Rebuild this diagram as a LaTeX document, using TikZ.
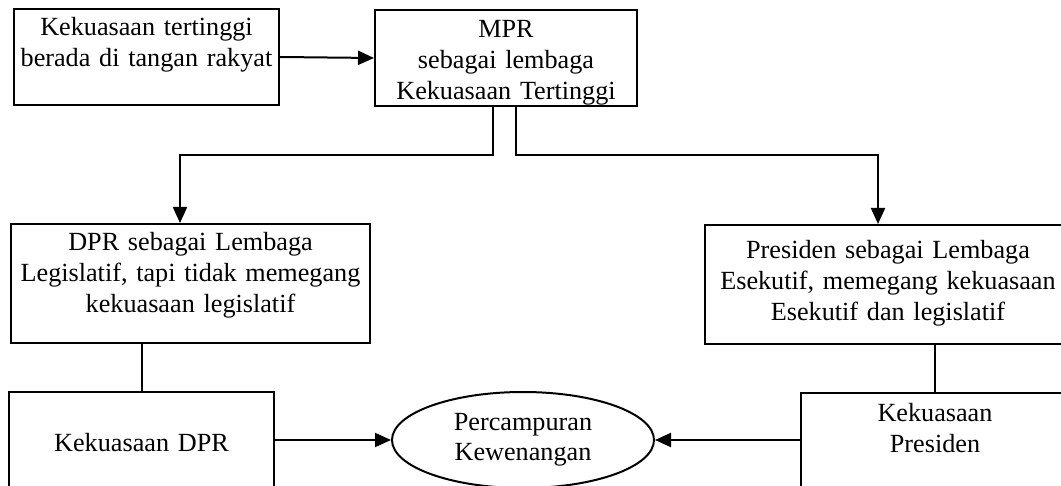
\documentclass[tikz,border=0pt]{standalone}
\usepackage{fontspec}
\setmainfont{Liberation Serif}
\usetikzlibrary{arrows.meta,shapes.geometric}
\tikzset{
  box/.style={draw, line width=2pt, anchor=north west, inner sep=0pt,
              align=center, font=\fontsize{26.2}{31}\selectfont},
  oval/.style={draw, ellipse, line width=2pt, inner sep=0pt,
               minimum width=262pt, minimum height=96pt, align=center,
               font=\fontsize{26.2}{30}\selectfont},
  link/.style={line width=2pt},
  arr/.style={line width=2pt, -{Triangle[length=16pt,width=14pt]}}
}
\begin{document}
\begin{tikzpicture}[x=1pt,y=-1pt]
  \useasboundingbox (0,0) rectangle (1061,486);
  \fill[white] (0,0) rectangle (1061,486);
  \clip (0,0) rectangle (1061,486);

  % top row
  \node[box, text width=265pt, text height=27pt, text depth=69pt] (rakyat) at (13,8)
    {Kekuasaan tertinggi\\berada di tangan rakyat};
  \node[box, text width=262pt, text height=28pt, text depth=68pt] (mpr) at (374,9)
    {MPR\\sebagai lembaga\\Kekuasaan Tertinggi};

  % middle row
  \node[box, text width=359pt, text height=27pt, text depth=92pt] (dpr) at (10,223)
    {DPR sebagai Lembaga\\Legislatif, tapi tidak memegang\\kekuasaan legislatif};
  \node[box, text width=366pt, text height=34pt, text depth=85pt] (pres) at (704,224)
    {Presiden sebagai Lembaga\\Esekutif, memegang kekuasaan\\Esekutif dan legislatif};

  % bottom row
  \node[box, text width=265pt, text height=59pt, text depth=46pt] (kdpr) at (8,391)
    {Kekuasaan DPR};
  \node[box, text width=268pt, text height=28pt, text depth=76pt] (kpres) at (800,392)
    {Kekuasaan\\Presiden};
  \node[oval] (campur) at (523,440) {Percampuran\\Kewenangan};

  % connectors
  \draw[arr] (rakyat.east) -- (mpr.west);
  \draw[arr] ([xshift=-13pt]mpr.south) -- ++(0,48) -| ([xshift=-10.5pt]dpr.north);
  \draw[arr] ([xshift=10pt]mpr.south) -- ++(0,48) -| ([xshift=-10pt]pres.north);
  \draw[link] (dpr.south -| kdpr.north) -- (kdpr.north);
  \draw[link] (pres.south -| kpres.north) -- (kpres.north);
  \draw[arr] (kdpr.east |- campur.west) -- (campur.west);
  \draw[arr] (kpres.west |- campur.east) -- (campur.east);
\end{tikzpicture}
\end{document}
